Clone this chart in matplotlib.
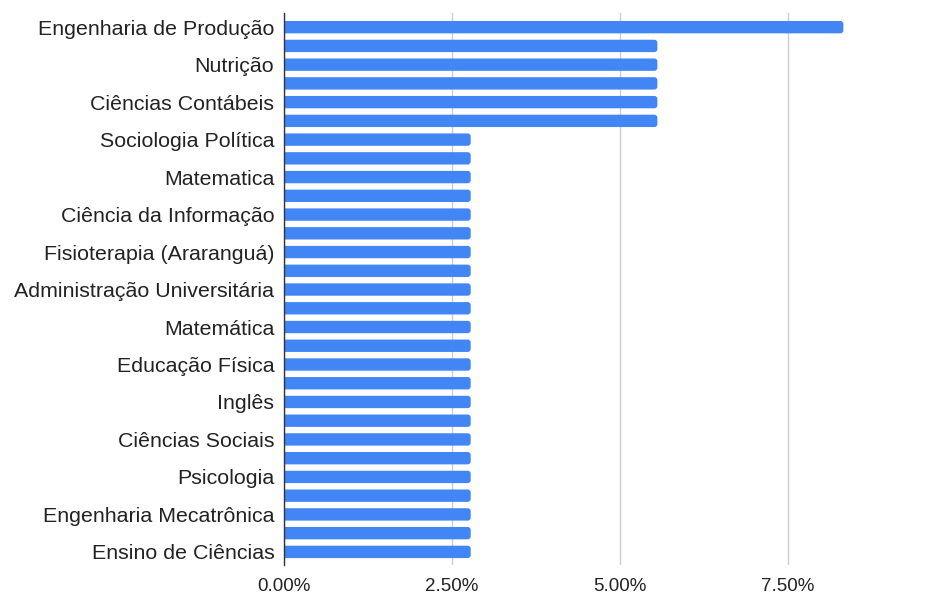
import matplotlib

matplotlib.use("Agg")
import matplotlib.pyplot as plt
from matplotlib.patches import FancyBboxPatch
from matplotlib.ticker import FuncFormatter

# labelled courses (only every other bar carries a label in the original)
labels_shown = [
    "Engenharia de Produção",
    "Nutrição",
    "Ciências Contábeis",
    "Sociologia Política",
    "Matematica",
    "Ciência da Informação",
    "Fisioterapia (Araranguá)",
    "Administração Universitária",
    "Matemática",
    "Educação Física",
    "Inglês",
    "Ciências Sociais",
    "Psicologia",
    "Engenharia Mecatrônica",
    "Ensino de Ciências",
]

# share of responses per course, in %, top to bottom (29 bars)
values = [
    8.33,
    5.56, 5.56, 5.56, 5.56, 5.56,
    2.78, 2.78, 2.78, 2.78, 2.78, 2.78, 2.78, 2.78,
    2.78, 2.78, 2.78, 2.78, 2.78, 2.78, 2.78, 2.78,
    2.78, 2.78, 2.78, 2.78, 2.78, 2.78, 2.78,
]

x_ticks = [0, 2.5, 5.0, 7.5]

BAR_COLOR = "#4285F4"
plt.rcParams["font.family"] = ["Liberation Sans", "DejaVu Sans"]

fig = plt.figure(figsize=(9.48, 5.96), dpi=100)
ax = fig.add_axes([0.2996, 0.052, 0.68, 0.926])

xmax = 9.6
ax.set_xlim(0, xmax)
ax.set_ylim(len(values) - 1 + 0.7, -0.75)

# pixel -> data scale, used for the rounded bar ends
px_x = xmax / (0.68 * 948)
px_y = (len(values) - 1 + 1.45) / (0.926 * 596)
radius = 3 * px_x
height = 0.66

for i, v in enumerate(values):
    patch = FancyBboxPatch(
        (-radius * 2, i - height / 2),
        v + radius * 2,
        height,
        boxstyle=f"round,pad=0,rounding_size={radius}",
        mutation_aspect=px_y / px_x,
        facecolor=BAR_COLOR,
        edgecolor="none",
        zorder=3,
    )
    ax.add_patch(patch)

ax.set_yticks(range(0, len(values), 2))
ax.set_yticklabels(labels_shown, fontsize=15.4, color="#222222")
ax.tick_params(axis="y", length=0, pad=7)

ax.set_xticks(x_ticks)
ax.xaxis.set_major_formatter(FuncFormatter(lambda v, _: f"{v:.2f}%"))
ax.tick_params(axis="x", length=0, pad=9, labelsize=13.5, labelcolor="#222222")

ax.grid(axis="x", color="#cccccc", linewidth=1, zorder=0)
for side in ["top", "right", "bottom"]:
    ax.spines[side].set_visible(False)
ax.spines["left"].set_color("#333333")
ax.spines["left"].set_linewidth(1)
ax.spines["left"].set_zorder(4)

fig.savefig("out.png", dpi=100)
